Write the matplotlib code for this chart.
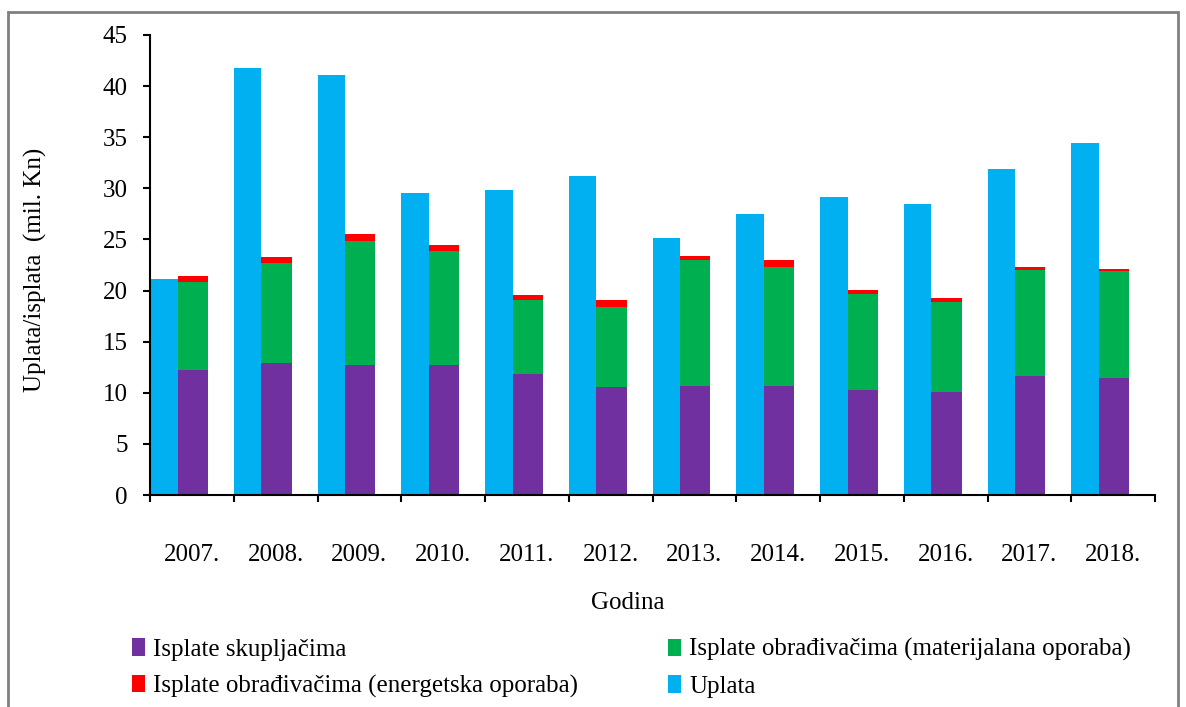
import numpy as np
import matplotlib.pyplot as plt
from matplotlib.patches import Rectangle

years = ["2007.", "2008.", "2009.", "2010.", "2011.", "2012.",
         "2013.", "2014.", "2015.", "2016.", "2017.", "2018."]
uplata = [21.1, 41.8, 41.1, 29.5, 29.8, 31.2, 25.1, 27.5, 29.2, 28.5, 31.9, 34.4]
skupljaci = [12.2, 12.9, 12.7, 12.7, 11.8, 10.6, 10.7, 10.7, 10.3, 10.05, 11.6, 11.4]
materijalna = [8.6, 9.8, 12.15, 11.2, 7.3, 7.8, 12.3, 11.6, 9.4, 8.85, 10.45, 10.5]
energetska = [0.6, 0.55, 0.65, 0.55, 0.5, 0.7, 0.4, 0.7, 0.4, 0.35, 0.25, 0.2]

c_purple = "#7030a0"
c_green = "#00b050"
c_red = "#ff0000"
c_blue = "#00b0f0"

plt.rcParams['font.family'] = ['Liberation Serif', 'DejaVu Serif']
fs = 18

fig = plt.figure(figsize=(11.86, 7.07), dpi=100)
ax = fig.add_axes([150 / 1186, 1 - 495 / 707, (1155 - 150) / 1186, 460 / 707])

x = np.arange(len(years))
w = 0.33
b_up = ax.bar(x - 0.5, uplata, w, align='edge', color=c_blue, zorder=2)
xs = x - 0.5 + w
b_sk = ax.bar(xs, skupljaci, 0.36, align='edge', color=c_purple, zorder=2)
b_ma = ax.bar(xs, materijalna, 0.36, align='edge', bottom=skupljaci, color=c_green, zorder=2)
bot2 = np.array(skupljaci) + np.array(materijalna)
b_en = ax.bar(xs, energetska, 0.36, align='edge', bottom=bot2, color=c_red, zorder=2)

ax.set_xlim(-0.5, 11.5)
ax.set_ylim(0, 45)
ax.set_yticks(np.arange(0, 46, 5))
ax.set_xticks(np.arange(-0.5, 12, 1))
ax.set_xticklabels([])
ax.tick_params(axis='x', length=5, width=1.5, direction='out')
ax.tick_params(axis='y', length=5, width=1.5, direction='out', labelsize=fs, pad=11)
for t in x:
    ax.text(t, -5.87, years[t], ha='center', va='center', fontsize=fs)
for s in ['top', 'right']:
    ax.spines[s].set_visible(False)
for s in ['left', 'bottom']:
    ax.spines[s].set_linewidth(1.5)

ax.set_ylabel("Uplata/isplata  (mil. Kn)", fontsize=fs)
ax.yaxis.set_label_coords((47 - 150) / 1005, 0.49)
fig.text(628 / 1186, 1 - 603 / 707, "Godina", ha='center', va='center', fontsize=fs)

leg_kw = dict(frameon=False, fontsize=fs, handlelength=0.5, handleheight=0.7,
              handletextpad=0.35, labelspacing=0.55, borderaxespad=0, borderpad=0)
fig.legend([b_sk, b_en], ["Isplate skupljačima", "Isplate obrađivačima (energetska oporaba)"],
           loc='center left', bbox_to_anchor=(132 / 1186, 1 - 668 / 707), **leg_kw)
fig.legend([b_ma, b_up], ["Isplate obrađivačima (materijalana oporaba)", "Uplata"],
           loc='center left', bbox_to_anchor=(668 / 1186, 1 - 668 / 707), **leg_kw)

fig.patches.append(Rectangle((8 / 1186, -0.02), 1170 / 1186, 1 - 12 / 707 + 0.02,
                             transform=fig.transFigure, fill=False,
                             edgecolor='#808080', linewidth=2))

fig.savefig("out.png", dpi=100)
